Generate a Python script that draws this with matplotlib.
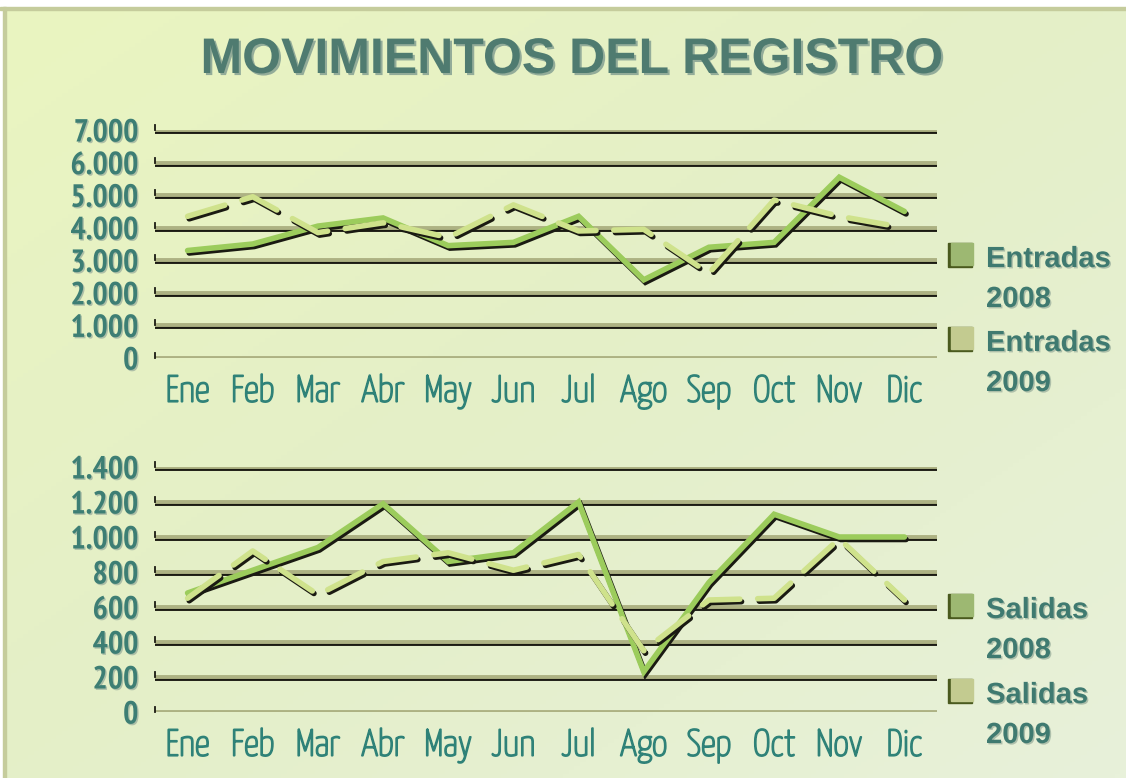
import numpy as np
import matplotlib
matplotlib.use("Agg")
import matplotlib.pyplot as plt
import matplotlib.patheffects as pe
from matplotlib.patches import Rectangle
from matplotlib.colors import LinearSegmentedColormap

months = ["Ene", "Feb", "Mar", "Abr", "May", "Jun", "Jul", "Ago", "Sep", "Oct", "Nov", "Dic"]

entradas_2008 = [3300, 3500, 4050, 4300, 3450, 3550, 4350, 2400, 3400, 3550, 5550, 4500]
entradas_2009 = [4350, 4950, 3850, 4150, 3700, 4700, 3900, 3950, 2600, 4850, 4350, 4000]
salidas_2008 = [680, 810, 940, 1190, 860, 910, 1200, 230, 740, 1130, 1000, 1000]
salidas_2009 = [650, 920, 670, 860, 910, 810, 900, 350, 640, 650, 990, 640]

entradas_ticks = [0, 1000, 2000, 3000, 4000, 5000, 6000, 7000]
entradas_labels = ["0", "1.000", "2.000", "3.000", "4.000", "5.000", "6.000", "7.000"]
salidas_ticks = [0, 200, 400, 600, 800, 1000, 1200, 1400]
salidas_labels = ["0", "200", "400", "600", "800", "1.000", "1.200", "1.400"]

entradas_legend = ["Entradas\n2008", "Entradas\n2009"]
salidas_legend = ["Salidas\n2008", "Salidas\n2009"]

title = "MOVIMIENTOS DEL REGISTRO"

c_2008 = "#9ccc5c"
c_2009 = "#cfe28c"
c_grid = "#adb283"
c_text = "#3f7a70"
c_leg = ["#9db872", "#c3cb90"]

W, H = 1126, 778
fig = plt.figure(figsize=(W / 100, H / 100), dpi=100)

# background gradient
bg = fig.add_axes([0, 0, 1, 1], zorder=-10)
xx, yy = np.meshgrid(np.linspace(0, 1, 200), np.linspace(0, 1, 200))
cmap = LinearSegmentedColormap.from_list("bg", ["#eaf5c0", "#e4efc8", "#e8f1da"])
bg.imshow((xx + yy) / 2, cmap=cmap, extent=[0, 1, 0, 1], aspect="auto", origin="upper")
bg.set_xlim(0, 1)
bg.set_ylim(0, 1)
bg.axis("off")
bg.add_patch(Rectangle((0, 1 - 7 / H), 1, 7 / H, color="white", zorder=2))
bg.add_patch(Rectangle((0, 0), 3 / W, 1, color="white", zorder=2))
bg.add_patch(Rectangle((0, 1 - 10 / H), 1, 3 / H, color="#c5cc9c", zorder=3))
bg.add_patch(Rectangle((3 / W, 0), 3 / W, 1 - 7 / H, color="#c5cc9c", zorder=3))

fig.text(572 / W, 1 - 73 / H, title, ha="center", va="baseline", fontsize=36,
         fontweight="bold", family="Liberation Sans", color="#4f7b70",
         path_effects=[pe.withSimplePatchShadow(offset=(1.5, -1.5), shadow_rgbFace="#8aa595", alpha=0.9)])

shadow = [pe.SimpleLineShadow(offset=(1.2, -1.8), shadow_color="#1a1a12", alpha=1.0), pe.Normal()]
grid_fx = [pe.SimpleLineShadow(offset=(0, -1.4), shadow_color="#1a1a12", alpha=1.0), pe.Normal()]
text_fx = [pe.withSimplePatchShadow(offset=(1, -1), shadow_rgbFace="#9fb3a0", alpha=0.8)]
month_fx = [pe.withStroke(linewidth=1.3, foreground="#2f8278")]


def draw_panel(rect, ticks, labels, s08, s09, ymax, px_height):
    ax = fig.add_axes(rect)
    ax.patch.set_alpha(0)
    x = np.arange(len(months))
    stub = ymax / px_height * 5
    for t in ticks:
        ax.axhline(t, color=c_grid, lw=2.8, zorder=1, path_effects=grid_fx)
        ax.plot([-0.5, -0.5], [t, t + stub], color="#1a1a12", lw=1.3, zorder=1, clip_on=False)
    ax.plot(x, s08, color=c_2008, lw=4.0, solid_capstyle="round", solid_joinstyle="miter",
            zorder=3, path_effects=shadow)
    ax.plot(x, s09, color=c_2009, lw=4.0, dashes=(7, 3.2), dash_capstyle="round",
            zorder=4, path_effects=shadow)
    ax.set_xlim(-0.5, len(months) - 0.5)
    ax.set_ylim(0, ymax)
    ax.set_yticks(ticks)
    ax.set_yticklabels(labels, fontsize=23, fontweight="bold",
                       family=["PT Sans Narrow", "DejaVu Sans"], color="#3d7e74")
    for lab in ax.get_yticklabels():
        lab.set_path_effects(text_fx)
    ax.set_xticks(x)
    ax.set_xticklabels(months, fontsize=27,
                       family=["Yanone Kaffeesatz", "DejaVu Sans"], color="#2f8278")
    for lab in ax.get_xticklabels():
        lab.set_path_effects(month_fx)
    ax.tick_params(axis="y", length=0, pad=12)
    ax.tick_params(axis="x", length=0, pad=12)
    for s in ax.spines.values():
        s.set_visible(False)
    return ax


ax1 = draw_panel([155 / W, 1 - 358 / H, 782 / W, 228 / H],
                 entradas_ticks, entradas_labels, entradas_2008, entradas_2009, 7000, 228)
ax2 = draw_panel([155 / W, 1 - 712 / H, 782 / W, 245 / H],
                 salidas_ticks, salidas_labels, salidas_2008, salidas_2009, 1400, 245)


def draw_legend(labels, baselines):
    for lab, yb, col in zip(labels, baselines, c_leg):
        # dark edge (left/bottom) under the colored square
        fig.add_artist(Rectangle((948 / W, 1 - yb / H), 24 / W, 24 / H,
                                 transform=fig.transFigure, color="#4a5a1e"))
        fig.add_artist(Rectangle((950.5 / W, 1 - (yb - 2.5) / H), 22 / W, 21.5 / H,
                                 transform=fig.transFigure, color=col))
        for k, line in enumerate(lab.split("\n")):
            fig.text(986 / W, 1 - (yb + 40 * k) / H, line, ha="left", va="baseline",
                     fontsize=21, fontweight="bold", family="Liberation Sans",
                     color=c_text, path_effects=text_fx)


draw_legend(entradas_legend, [267, 351])
draw_legend(salidas_legend, [618, 703])

fig.savefig("out.png", dpi=100)
